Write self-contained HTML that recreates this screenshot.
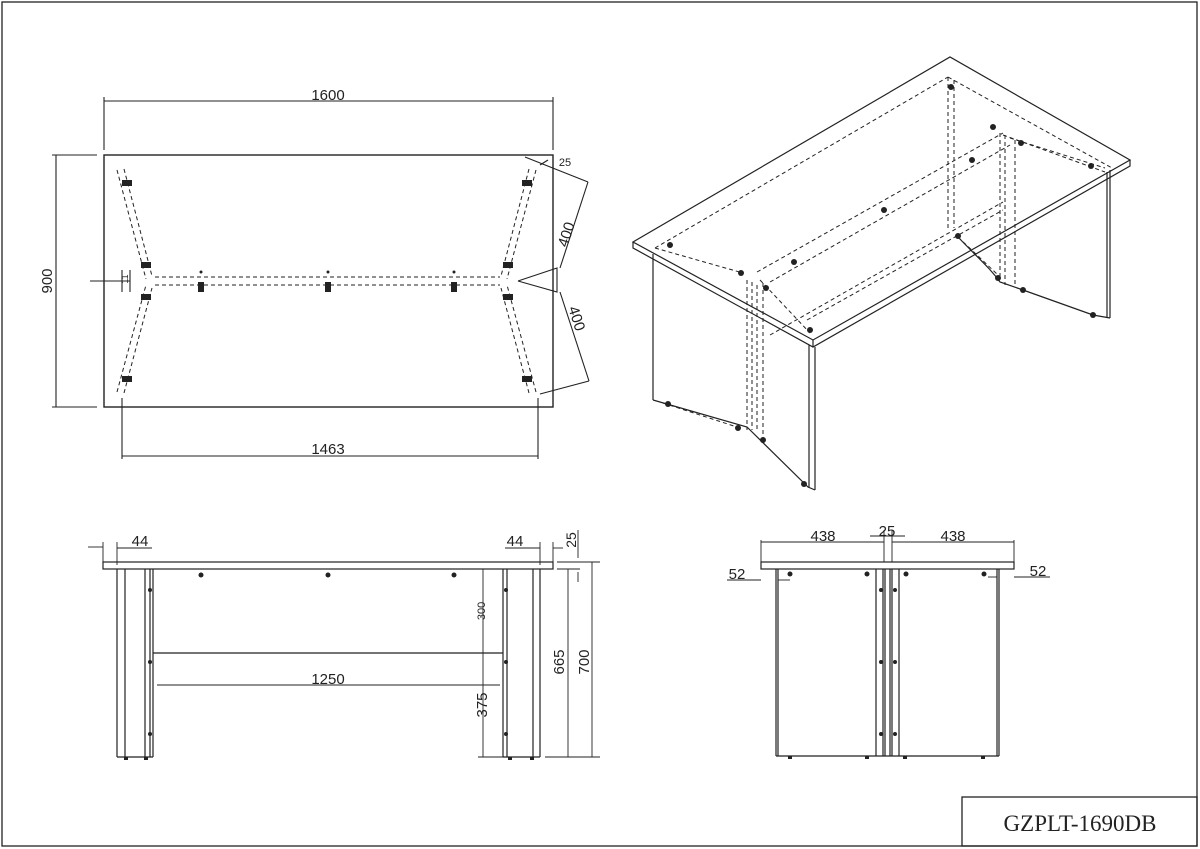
<!DOCTYPE html>
<html><head><meta charset="utf-8"><style>
html,body{margin:0;padding:0;background:#fff}
svg{display:block}
text{font-family:"Liberation Sans",sans-serif;fill:#222}
</style></head><body>
<svg width="1200" height="849" viewBox="0 0 1200 849" xmlns="http://www.w3.org/2000/svg">
<g fill="none" stroke="#222" stroke-width="1.3">
<rect x="2" y="2" width="1195" height="844"/>
<rect x="962" y="797" width="235" height="49"/>
</g>
<text x="1080" y="831" font-family="Liberation Serif" font-size="23" text-anchor="middle" style="font-family:'Liberation Serif',serif">GZPLT-1690DB</text>

<!-- PLAN VIEW -->
<g fill="none" stroke="#222" stroke-width="1.1">
<rect x="104" y="155" width="449" height="252" stroke-width="1.4"/>
<line x1="104" y1="101" x2="553" y2="101"/>
<line x1="104" y1="97" x2="104" y2="150"/>
<line x1="553" y1="97" x2="553" y2="150"/>
<line x1="56" y1="155" x2="56" y2="407"/>
<line x1="52" y1="155" x2="97" y2="155"/>
<line x1="52" y1="407" x2="97" y2="407"/>
<line x1="122" y1="456" x2="538" y2="456"/>
<line x1="122" y1="398" x2="122" y2="459"/>
<line x1="538" y1="398" x2="538" y2="459"/>
<line x1="525" y1="157" x2="588" y2="182"/>
<line x1="540" y1="165" x2="548" y2="160"/>
<line x1="540" y1="394" x2="589" y2="381"/>
<line x1="588" y1="182" x2="560" y2="268"/>
<line x1="560" y1="292" x2="589" y2="381"/>
<polyline points="518,281 557,268 557,292 518,281"/>
<line x1="90" y1="281" x2="130" y2="281"/>
<line x1="122" y1="270" x2="122" y2="292"/>
<line x1="130" y1="270" x2="130" y2="292"/>
</g>
<g fill="none" stroke="#222" stroke-width="1" stroke-dasharray="4,3">
<line x1="117" y1="170" x2="146" y2="279"/>
<line x1="124" y1="169" x2="152" y2="276"/>
<line x1="117" y1="392" x2="146" y2="285"/>
<line x1="124" y1="393" x2="152" y2="288"/>
<line x1="536" y1="170" x2="507" y2="279"/>
<line x1="529" y1="169" x2="501" y2="276"/>
<line x1="536" y1="392" x2="507" y2="285"/>
<line x1="529" y1="393" x2="501" y2="288"/>
<line x1="155" y1="277" x2="500" y2="277"/>
<line x1="155" y1="285" x2="500" y2="285"/>
</g>
<g fill="#222">
<rect x="122" y="180" width="10" height="6"/><rect x="141" y="262" width="10" height="6"/><rect x="141" y="294" width="10" height="6"/><rect x="122" y="376" width="10" height="6"/>
<rect x="522" y="180" width="10" height="6"/><rect x="503" y="262" width="10" height="6"/><rect x="503" y="294" width="10" height="6"/><rect x="522" y="376" width="10" height="6"/>
<rect x="198" y="282" width="6" height="10"/><rect x="325" y="282" width="6" height="10"/><rect x="451" y="282" width="6" height="10"/>
<circle cx="201" cy="272" r="1.5"/><circle cx="328" cy="272" r="1.5"/><circle cx="454" cy="272" r="1.5"/>
</g>
<text x="328" y="100" font-size="15" text-anchor="middle">1600</text>
<text x="328" y="454" font-size="15" text-anchor="middle">1463</text>
<text transform="translate(52,281) rotate(-90)" font-size="15" text-anchor="middle">900</text>
<text x="565" y="166" font-size="11" text-anchor="middle">25</text>
<text transform="translate(571,236) rotate(-72)" font-size="15" text-anchor="middle">400</text>
<text transform="translate(572,320) rotate(72)" font-size="15" text-anchor="middle">400</text>
<text transform="translate(128,279) rotate(-90)" font-size="9" text-anchor="middle">11</text>

<!-- ISO VIEW -->
<g fill="none" stroke="#222" stroke-width="1.2">
<polygon points="633,242 950,57 1130,160 813,340"/>
<polyline points="633,242 633,248 813,347 1130,166 1130,160"/>
<line x1="813" y1="340" x2="813" y2="347"/>
<line x1="653" y1="254" x2="653" y2="400"/>
<polyline points="653,400 747,427 808,487 815,490"/>
<line x1="809" y1="345" x2="809" y2="488"/>
<line x1="815" y1="347" x2="815" y2="490"/>
<line x1="1107" y1="172" x2="1107" y2="317"/>
<line x1="1110" y1="170" x2="1110" y2="318"/>
<polyline points="1023,290 1093,315 1110,318"/>
<path d="M958,237 C980,260 990,268 1000,282 L1023,290"/>
</g>
<g fill="none" stroke="#222" stroke-width="1" stroke-dasharray="4,3">
<line x1="655" y1="248" x2="948" y2="77"/>
<line x1="948" y1="77" x2="1112" y2="168"/>
<line x1="655" y1="248" x2="743" y2="273"/>
<line x1="760" y1="280" x2="810" y2="333"/>
<line x1="757" y1="272" x2="1003" y2="133"/>
<line x1="770" y1="282" x2="1010" y2="145"/>
<line x1="807" y1="320" x2="1003" y2="210"/>
<line x1="770" y1="335" x2="1003" y2="202"/>
<line x1="747" y1="280" x2="747" y2="430"/>
<line x1="752" y1="282" x2="752" y2="430"/>
<line x1="757" y1="285" x2="757" y2="432"/>
<line x1="763" y1="283" x2="763" y2="440"/>
<line x1="948" y1="77" x2="948" y2="230"/>
<line x1="954" y1="80" x2="954" y2="228"/>
<line x1="1000" y1="133" x2="1000" y2="280"/>
<line x1="1005" y1="135" x2="1005" y2="285"/>
<line x1="1015" y1="140" x2="1015" y2="287"/>
<line x1="1010" y1="138" x2="1105" y2="168"/>
<line x1="1003" y1="135" x2="1105" y2="172"/>
<line x1="958" y1="237" x2="998" y2="275"/>
<line x1="663" y1="403" x2="740" y2="428"/>
</g>
<g fill="#222">
<circle cx="670" cy="245" r="3"/><circle cx="741" cy="273" r="3"/><circle cx="766" cy="288" r="3"/><circle cx="794" cy="262" r="3"/>
<circle cx="884" cy="210" r="3"/><circle cx="972" cy="160" r="3"/><circle cx="810" cy="330" r="3"/><circle cx="951" cy="87" r="3"/>
<circle cx="993" cy="127" r="3"/><circle cx="1021" cy="143" r="3"/><circle cx="1091" cy="166" r="3"/><circle cx="958" cy="236" r="3"/>
<circle cx="668" cy="404" r="3"/><circle cx="738" cy="428" r="3"/><circle cx="763" cy="440" r="3"/><circle cx="804" cy="484" r="3"/>
<circle cx="1023" cy="290" r="3"/><circle cx="1093" cy="315" r="3"/><circle cx="998" cy="278" r="3"/>
</g>

<!-- FRONT VIEW -->
<g fill="none" stroke="#222" stroke-width="1.2">
<rect x="103" y="562" width="450" height="7"/>
<line x1="117" y1="569" x2="117" y2="757"/><line x1="125" y1="569" x2="125" y2="757"/>
<line x1="145" y1="569" x2="145" y2="757"/><line x1="150" y1="569" x2="150" y2="757"/><line x1="153" y1="569" x2="153" y2="757"/>
<line x1="117" y1="757" x2="153" y2="757"/>
<line x1="503" y1="569" x2="503" y2="757"/><line x1="507" y1="569" x2="507" y2="757"/>
<line x1="533" y1="569" x2="533" y2="757"/><line x1="540" y1="569" x2="540" y2="757"/>
<line x1="503" y1="757" x2="540" y2="757"/>
<line x1="153" y1="653" x2="503" y2="653"/>
</g>
<g fill="none" stroke="#222" stroke-width="0.9">
<line x1="157" y1="685" x2="500" y2="685"/>
<line x1="483" y1="569" x2="483" y2="757"/>
<line x1="478" y1="757" x2="530" y2="757"/>
<line x1="568" y1="569" x2="568" y2="757"/>
<line x1="592" y1="562" x2="592" y2="757"/>
<line x1="545" y1="757" x2="600" y2="757"/>
<line x1="557" y1="562" x2="600" y2="562"/>
<line x1="557" y1="569" x2="580" y2="569"/>
<line x1="578" y1="530" x2="578" y2="558"/>
<line x1="578" y1="572" x2="578" y2="582"/>
<line x1="117" y1="548" x2="152" y2="548"/>
<line x1="117" y1="542" x2="117" y2="565"/>
<line x1="88" y1="547" x2="103" y2="547"/>
<line x1="103" y1="542" x2="103" y2="562"/>
<line x1="505" y1="548" x2="540" y2="548"/>
<line x1="540" y1="542" x2="540" y2="565"/>
<line x1="553" y1="548" x2="563" y2="548"/>
<line x1="553" y1="542" x2="553" y2="562"/>
</g>
<g fill="#222">
<circle cx="201" cy="575" r="2.5"/><circle cx="328" cy="575" r="2.5"/><circle cx="454" cy="575" r="2.5"/>
<circle cx="150" cy="590" r="2"/><circle cx="150" cy="662" r="2"/><circle cx="150" cy="734" r="2"/>
<circle cx="506" cy="590" r="2"/><circle cx="506" cy="662" r="2"/><circle cx="506" cy="734" r="2"/>
<rect x="124" y="757" width="4" height="3"/><rect x="144" y="757" width="4" height="3"/><rect x="508" y="757" width="4" height="3"/><rect x="530" y="757" width="4" height="3"/>
</g>
<text x="140" y="546" font-size="15" text-anchor="middle">44</text>
<text x="515" y="546" font-size="15" text-anchor="middle">44</text>
<text x="328" y="684" font-size="15" text-anchor="middle">1250</text>
<text transform="translate(485,611) rotate(-90)" font-size="11" text-anchor="middle">300</text>
<text transform="translate(487,705) rotate(-90)" font-size="15" text-anchor="middle">375</text>
<text transform="translate(564,662) rotate(-90)" font-size="15" text-anchor="middle">665</text>
<text transform="translate(589,662) rotate(-90)" font-size="15" text-anchor="middle">700</text>
<text transform="translate(576,540) rotate(-90)" font-size="14" text-anchor="middle">25</text>

<!-- SIDE VIEW -->
<g fill="none" stroke="#222" stroke-width="1.2">
<rect x="761" y="562" width="253" height="7"/>
<line x1="776" y1="569" x2="776" y2="756"/><line x1="778" y1="569" x2="778" y2="756"/>
<line x1="876" y1="569" x2="876" y2="756"/><line x1="883" y1="569" x2="883" y2="756"/><line x1="885" y1="569" x2="885" y2="756"/>
<line x1="890" y1="569" x2="890" y2="756"/><line x1="892" y1="569" x2="892" y2="756"/><line x1="899" y1="569" x2="899" y2="756"/>
<line x1="997" y1="569" x2="997" y2="756"/><line x1="999" y1="569" x2="999" y2="756"/>
<line x1="776" y1="756" x2="999" y2="756"/>
</g>
<g fill="none" stroke="#222" stroke-width="0.9">
<line x1="761" y1="542" x2="884" y2="542"/>
<line x1="892" y1="542" x2="1014" y2="542"/>
<line x1="761" y1="540" x2="761" y2="562"/>
<line x1="1014" y1="540" x2="1014" y2="562"/>
<line x1="884" y1="530" x2="884" y2="562"/>
<line x1="892" y1="530" x2="892" y2="562"/>
<line x1="870" y1="536" x2="905" y2="536"/>
<line x1="727" y1="580" x2="761" y2="580"/>
<line x1="778" y1="580" x2="790" y2="580"/>
<line x1="1014" y1="577" x2="1050" y2="577"/>
<line x1="988" y1="577" x2="997" y2="577"/>
</g>
<g fill="#222">
<circle cx="790" cy="574" r="2.5"/><circle cx="867" cy="574" r="2.5"/><circle cx="906" cy="574" r="2.5"/><circle cx="984" cy="574" r="2.5"/>
<circle cx="881" cy="590" r="2"/><circle cx="881" cy="662" r="2"/><circle cx="881" cy="734" r="2"/>
<circle cx="895" cy="590" r="2"/><circle cx="895" cy="662" r="2"/><circle cx="895" cy="734" r="2"/>
<rect x="788" y="756" width="4" height="3"/><rect x="865" y="756" width="4" height="3"/><rect x="903" y="756" width="4" height="3"/><rect x="981" y="756" width="4" height="3"/>
</g>
<text x="823" y="541" font-size="15" text-anchor="middle">438</text>
<text x="953" y="541" font-size="15" text-anchor="middle">438</text>
<text x="887" y="536" font-size="15" text-anchor="middle">25</text>
<text x="737" y="579" font-size="15" text-anchor="middle">52</text>
<text x="1038" y="576" font-size="15" text-anchor="middle">52</text>
</svg>
</body></html>
